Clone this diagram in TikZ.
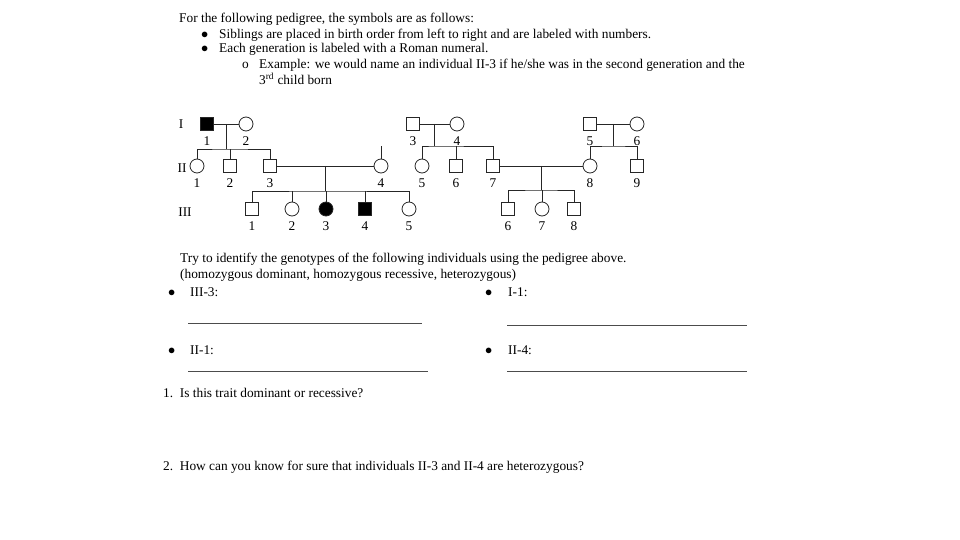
\documentclass[tikz,border=0pt]{standalone}
\usepackage{fontspec}
\setmainfont{Liberation Serif}
\usetikzlibrary{positioning}

\begin{document}
\begin{tikzpicture}[x=1pt, y=-1pt, font=\fontsize{13.35}{15}\selectfont,
	male/.style={draw=black!85, line width=0.8pt, fill=white, minimum size=13pt, inner sep=0pt},
	female/.style={draw=black!85, line width=0.8pt, fill=white, circle, minimum size=14pt, inner sep=0pt},
	hit/.style={fill=black},
	txt/.style={anchor=base west, inner sep=0pt},
	kin/.style={draw=black!85, line width=0.8pt},
	blank/.style={draw=black!70, line width=0.8pt},
	label distance=2pt]
	\useasboundingbox (0,0) rectangle (960,540);

	% Instructions at the top
	\node[txt] (head) at (179,23) {For the following pedigree, the symbols are as follows:};
	\node[txt] (dot1) at (201,39) {$\bullet$};
	\node[txt] (sib) at (219,39) {Siblings are placed in birth order from left to right and are labeled with numbers.};
	\node[txt] (dot2) at (201,53) {$\bullet$};
	\node[txt] (gen) at (219,53) {Each generation is labeled with a Roman numeral.};
	\node[txt] (circ) at (242,69) {o};
	\node[txt] (ex) at (259,69) {Example: we would name an individual II-3 if he/she was in the second generation and the};
	\node[txt] (exb) at (259,85) {3\textsuperscript{rd} child born};

	% Generation numerals
	\node (gI) at (181,124) {I};
	\node (gII) at (182,168) {II};
	\node (gIII) at (185,212) {III};

	% Generation I
	\node[male, hit, label={below:1}] (i1) at (207,124) {};
	\node[female, label={below:2}] (i2) at (246,124) {};
	\node[male, label={below:3}] (i3) at (413,124) {};
	\node[female, label={below:4}] (i4) at (457,124) {};
	\node[male, label={below:5}] (i5) at (590,124) {};
	\node[female, label={below:6}] (i6) at (637,124) {};

	% Generation II
	\node[female, label={below:1}] (ii1) at (197,166) {};
	\node[male, label={below:2}] (ii2) at (230,166) {};
	\node[male, label={below:3}] (ii3) at (270,166) {};
	\node[female, label={below:4}] (ii4) at (381,166) {};
	\node[female, label={below:5}] (ii5) at (422,166) {};
	\node[male, label={below:6}] (ii6) at (456,166) {};
	\node[male, label={below:7}] (ii7) at (493,166) {};
	\node[female, label={below:8}] (ii8) at (590,166) {};
	\node[male, label={below:9}] (ii9) at (637,166) {};

	% Generation III
	\node[male, label={below:1}] (iii1) at (252,209) {};
	\node[female, label={below:2}] (iii2) at (292,209) {};
	\node[female, hit, label={below:3}] (iii3) at (326,209) {};
	\node[male, hit, label={below:4}] (iii4) at (365,209) {};
	\node[female, label={below:5}] (iii5) at (409,209) {};
	\node[male, label={below:6}] (iii6) at (508,209) {};
	\node[female, label={below:7}] (iii7) at (542,209) {};
	\node[male, label={below:8}] (iii8) at (574,209) {};

	% Couples, with the point where their children hang
	\draw[kin] (i1) -- (i2) coordinate[midway] (m1);
	\draw[kin] (i3) -- (i4) coordinate[midway] (m2);
	\draw[kin] (i5) -- (i6) coordinate[midway] (m3);
	\draw[kin] (ii3) -- (ii4) coordinate[midway] (m4);
	\draw[kin] (ii7) -- (ii8) coordinate[midway] (m5);

	\coordinate (s1) at (m1 |- 0,149);
	\coordinate (s2) at (m2 |- 0,146);
	\coordinate (s3) at (m3 |- 0,146);
	\coordinate (s4) at (m4 |- 0,191);
	\coordinate (s5) at (m5 |- 0,190);
	\coordinate (ii4top) at (381,146);

	% Sibships
	\draw[kin] (m1) -- (s1);
	\draw[kin] (ii1) |- (s1) -| (ii3);
	\draw[kin] (ii2) -- (ii2 |- s1);

	\draw[kin] (m2) -- (s2);
	\draw[kin] (ii5) |- (s2) -| (ii7);
	\draw[kin] (ii6) -- (ii6 |- s2);

	\draw[kin] (m3) -- (s3);
	\draw[kin] (ii8) |- (s3) -| (ii9);

	\draw[kin] (ii4) -- (ii4top);

	\draw[kin] (m4) -- (s4);
	\draw[kin] (iii1) |- (s4) -| (iii5);
	\draw[kin] (iii2) -- (iii2 |- s4);
	\draw[kin] (iii3) -- (iii3 |- s4);
	\draw[kin] (iii4) -- (iii4 |- s4);

	\draw[kin] (m5) -- (s5);
	\draw[kin] (iii6) |- (s5) -| (iii8);
	\draw[kin] (iii7) -- (iii7 |- s5);

	% Questions
	\node[txt] (try) at (180,262) {Try to identify the genotypes of the following individuals using the pedigree above.};
	\node[txt] (hz) at (180,278) {(homozygous dominant, homozygous recessive, heterozygous)};
	\node[txt] (b1) at (168,296) {$\bullet$};
	\node[txt] (q1) at (190,296) {III-3:};
	\node[txt] (b2) at (485,296) {$\bullet$};
	\node[txt] (q2) at (508,296) {I-1:};
	\node[txt] (b3) at (168,354) {$\bullet$};
	\node[txt] (q3) at (190,354) {II-1:};
	\node[txt] (b4) at (485,354) {$\bullet$};
	\node[txt] (q4) at (508,354) {II-4:};
	\draw[blank] (188,323) -- (422,323);
	\draw[blank] (507,325) -- (747,325);
	\draw[blank] (188,371) -- (428,371);
	\draw[blank] (507,371) -- (747,371);
	\node[txt] (n1) at (163,397) {1.\ \ Is this trait dominant or recessive?};
	\node[txt] (n2) at (163,470) {2.\ \ How can you know for sure that individuals II-3 and II-4 are heterozygous?};
\end{tikzpicture}
\end{document}
